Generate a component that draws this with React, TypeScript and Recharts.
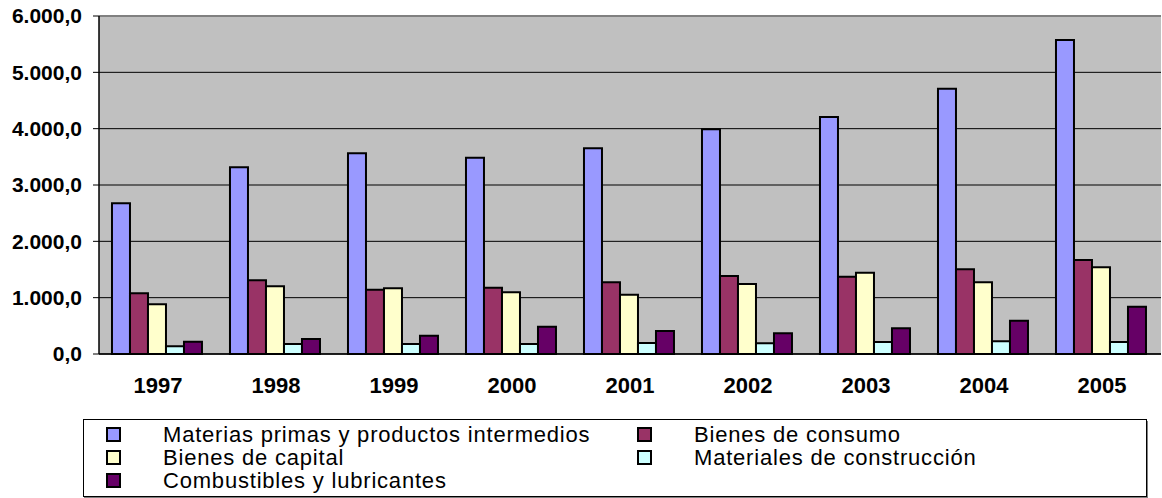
import React from 'react';
import { BarChart, Bar, XAxis, YAxis, CartesianGrid, Legend, ReferenceLine } from 'recharts';

const years = ['1997', '1998', '1999', '2000', '2001', '2002', '2003', '2004', '2005'];

const materias = [2675, 3314, 3563, 3485, 3651, 3989, 4207, 4710, 5574];
const consumo = [1077, 1308, 1140, 1177, 1272, 1385, 1373, 1503, 1669];
const capital = [882, 1202, 1166, 1095, 1053, 1243, 1444, 1272, 1539];
const construccion = [137, 178, 178, 178, 195, 190, 213, 225, 213];
const combustibles = [218, 266, 325, 485, 408, 367, 456, 592, 840];

const yTicks = [0, 1000, 2000, 3000, 4000, 5000, 6000];
const boundaryTicks = [0, 1, 2, 3, 4, 5, 6, 7, 8, 9];

const series = [
    { key: 'materias', name: 'Materias primas y productos intermedios', color: '#9999FF', values: materias },
    { key: 'consumo', name: 'Bienes de consumo', color: '#993366', values: consumo },
    { key: 'capital', name: 'Bienes de capital', color: '#FFFFCC', values: capital },
    { key: 'construccion', name: 'Materiales de construcción', color: '#CCFFFF', values: construccion },
    { key: 'combustibles', name: 'Combustibles y lubricantes', color: '#660066', values: combustibles },
];

const data = years.map((year, i) => {
    const row: any = { year, pos: i + 0.5 };
    series.forEach(s => { row[s.key] = s.values[i]; });
    return row;
});

const formatEs = (v: number) => {
    const int = Math.round(v).toString().replace(/\B(?=(\d{3})+(?!\d))/g, '.');
    return `${int},0`;
};

const FONT = '"Liberation Sans", Arial, sans-serif';

const LegendBox: React.FC = () => {
    return (
        <div
            style={{
                position: 'relative',
                width: 1064,
                height: 78,
                boxSizing: 'border-box',
                border: '1px solid #000',
                boxShadow: '1px 2px 0 #808080',
                background: '#fff',
                fontFamily: FONT,
                fontSize: 22,
                letterSpacing: 0.8,
                color: '#000',
            }}
        >
            {series.map((s, i) => {
                const col = i % 2;
                const row = Math.floor(i / 2);
                return (
                    <div
                        key={s.key}
                        style={{
                            position: 'absolute',
                            left: col === 0 ? 22 : 553,
                            top: 3 + row * 23,
                            height: 23,
                            display: 'flex',
                            alignItems: 'center',
                            whiteSpace: 'nowrap',
                            lineHeight: '23px',
                        }}
                    >
                        <span
                            style={{
                                display: 'inline-block',
                                width: 15,
                                height: 15,
                                boxSizing: 'border-box',
                                border: '2px solid #000',
                                background: s.color,
                                marginRight: 42,
                            }}
                        />
                        <span style={{ display: 'inline-block', height: 22, lineHeight: '22px', overflow: 'visible' }}>
                            {s.name}
                        </span>
                    </div>
                );
            })}
        </div>
    );
};

const App: React.FC = () => {
    return (
        <div style={{ position: 'absolute', left: 0, top: 0, background: '#fff' }}>
            <BarChart
                width={1162}
                height={498}
                data={data}
                margin={{ top: 16, right: 1, left: 0, bottom: 104 }}
                barCategoryGap="11%"
                barGap={0}
                style={{ fontFamily: FONT }}
            >
                <CartesianGrid vertical={false} stroke="#000" fill="#C0C0C0" fillOpacity={1} />
                <XAxis
                    xAxisId="b"
                    dataKey="pos"
                    type="number"
                    domain={[0, 9]}
                    ticks={boundaryTicks}
                    height={0}
                    tick={false}
                    axisLine={false}
                    tickLine={{ stroke: '#000', strokeWidth: 1 }}
                    tickSize={6}
                />
                <XAxis
                    dataKey="year"
                    height={40}
                    tickLine={false}
                    axisLine={{ stroke: '#000', strokeWidth: 1.5 }}
                    tickSize={6}
                    tickMargin={17}
                    tick={{ fill: '#000', fontSize: 22, fontWeight: 'bold' }}
                    interval={0}
                />
                <YAxis
                    width={99}
                    domain={[0, 6000]}
                    ticks={yTicks}
                    tickFormatter={formatEs}
                    axisLine={{ stroke: '#000', strokeWidth: 1.5 }}
                    tickLine={{ stroke: '#000' }}
                    tickSize={6}
                    tickMargin={11}
                    tick={{ fill: '#000', fontSize: 21, fontWeight: 'bold' }}
                    interval={0}
                />
                <ReferenceLine y={6000} stroke="#808080" strokeWidth={2} />
                {series.map(s => (
                    <Bar
                        key={s.key}
                        dataKey={s.key}
                        name={s.name}
                        fill={s.color}
                        stroke="#000"
                        strokeWidth={2}
                        isAnimationActive={false}
                    />
                ))}
                <Legend
                    layout="horizontal"
                    verticalAlign="middle"
                    align="center"
                    content={<LegendBox />}
                    wrapperStyle={{ left: 83, top: 419, width: 1064, height: 78 }}
                />
            </BarChart>
        </div>
    );
};

export default App;
